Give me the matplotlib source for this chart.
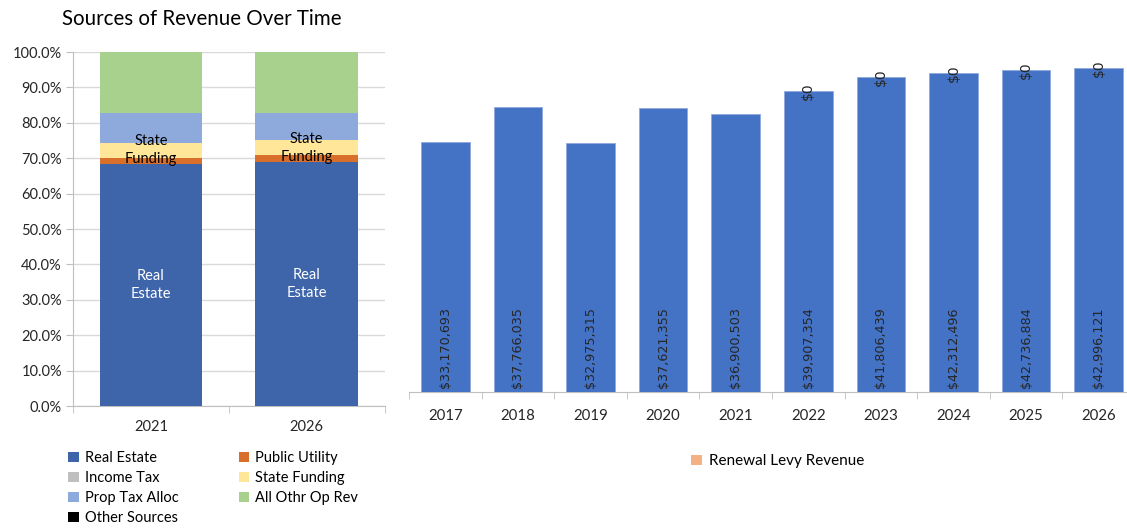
import numpy as np
import matplotlib
matplotlib.use("Agg")
import matplotlib.pyplot as plt
from matplotlib.patches import Patch

plt.rcParams['font.family'] = ['Lato', 'DejaVu Sans']

# left chart : share of revenue (percent)
share_years = ["2021", "2026"]
share_names = ["Real Estate", "Public Utility", "Income Tax", "State Funding",
               "Prop Tax Alloc", "All Othr Op Rev", "Other Sources"]
share_vals = {
    "Real Estate":     [68.5, 69.0],
    "Public Utility":  [1.6, 1.9],
    "Income Tax":      [0.0, 0.0],
    "State Funding":   [4.3, 4.2],
    "Prop Tax Alloc":  [8.4, 7.6],
    "All Othr Op Rev": [17.2, 17.3],
    "Other Sources":   [0.0, 0.0],
}
share_colors = {
    "Real Estate": "#3E64AA",
    "Public Utility": "#D8702C",
    "Income Tax": "#BFBFBF",
    "State Funding": "#FFE699",
    "Prop Tax Alloc": "#8EA9DB",
    "All Othr Op Rev": "#A9D18E",
    "Other Sources": "#000000",
}

# right chart : revenue per year
rev_years = ["2017", "2018", "2019", "2020", "2021", "2022", "2023", "2024", "2025", "2026"]
rev_base = [33170693, 37766035, 32975315, 37621355, 36900503,
            39907354, 41806439, 42312496, 42736884, 42996121]
renewal_levy = [None, None, None, None, None, 0, 0, 0, 0, 0]

fig = plt.figure(figsize=(11.27, 5.29), dpi=100)
grid_col = "#D9D9D9"
axis_col = "#BFBFBF"

# ---------------- left chart
ax = fig.add_axes([0.0648, 0.2325, 0.2764, 0.6692])
x = np.arange(len(share_years))
bottom = np.zeros(len(share_years))
for name in share_names:
    v = np.array(share_vals[name])
    ax.bar(x, v, 0.66, bottom=bottom, color=share_colors[name], label=name, zorder=3)
    if name == "Real Estate":
        for xi, b, h in zip(x, bottom, v):
            ax.text(xi, b + h / 2, "Real\nEstate", color="white", ha="center", va="center",
                    fontsize=10.5, linespacing=1.4, zorder=4)
    if name == "State Funding":
        for xi, b, h in zip(x, bottom, v):
            ax.text(xi, b + h / 2, "State\nFunding", color="black", ha="center", va="center",
                    fontsize=10.5, linespacing=1.35, zorder=4)
    bottom += v

ax.set_xlim(-0.5, 1.5)
ax.set_ylim(0, 100)
ax.set_yticks(np.arange(0, 101, 10))
ax.set_yticklabels(["%.1f%%" % t for t in np.arange(0, 101, 10)], fontsize=10.5, color="#262626")
ax.set_xticks(x)
ax.set_xticklabels(share_years, fontsize=10.5, color="#262626")
ax.set_xticks([-0.5, 0.5, 1.5], minor=True)
ax.tick_params(axis="x", which="major", length=0, pad=10)
ax.tick_params(axis="x", which="minor", length=5, color=axis_col)
ax.tick_params(axis="y", length=5, color=axis_col, pad=3)
ax.grid(axis="y", color=grid_col, lw=1, zorder=0)
for s in ["top", "right"]:
    ax.spines[s].set_visible(False)
ax.spines["left"].set_color(axis_col)
ax.spines["bottom"].set_color(axis_col)

fig.text(0.055, 0.965, "Sources of Revenue Over Time", fontsize=14.8, color="#000000", va="center")

# legend, row order like the original (2 columns)
hd = {n: Patch(facecolor=share_colors[n]) for n in share_names}
order = ["Real Estate", "Income Tax", "Prop Tax Alloc", "Other Sources",
         "Public Utility", "State Funding", "All Othr Op Rev"]
fig.legend([hd[n] for n in order], order, ncol=2, loc="upper left",
           bbox_to_anchor=(0.0555, 0.159), frameon=False, fontsize=10.5,
           handlelength=0.7, handleheight=0.7, handletextpad=0.45,
           columnspacing=4.1, labelspacing=0.42, borderaxespad=0)

# ---------------- right chart
ax2 = fig.add_axes([0.3629, 0.259, 0.6442, 0.7127])
xr = np.arange(len(rev_years))
ax2.bar(xr, rev_base, 0.67, color="#4472C4", edgecolor="#8FAADC", linewidth=0.6, zorder=3)
lev = np.array([0 if v is None else v for v in renewal_levy], dtype=float)
ax2.bar(xr, lev, 0.67, bottom=rev_base, color="#F4B183", zorder=3)
for xi, v in zip(xr, rev_base):
    ax2.text(xi, 0.011 * 50e6, "${:,}".format(v), rotation=90, ha="center", va="bottom",
             fontsize=9.2, color="#262626", family="DejaVu Sans", zorder=4)
for xi, v, b in zip(xr, renewal_levy, rev_base):
    if v is not None:
        ax2.text(xi, b + v, "${:,}".format(v), rotation=90, ha="center", va="center",
                 fontsize=10, color="#262626", family="DejaVu Sans", zorder=4)
ax2.set_xlim(-0.5, len(rev_years) - 0.5)
ax2.set_ylim(0, 50e6)
ax2.set_yticks([])
ax2.set_xticks(xr)
ax2.set_xticklabels(rev_years, fontsize=10.8, color="#262626")
ax2.set_xticks(np.arange(-0.5, len(rev_years), 1), minor=True)
ax2.tick_params(axis="x", which="major", length=0, pad=12)
ax2.tick_params(axis="x", which="minor", length=5, color=axis_col)
for s in ["top", "right", "left"]:
    ax2.spines[s].set_visible(False)
ax2.spines["bottom"].set_color(axis_col)

fig.legend([Patch(facecolor="#F4B183")], ["Renewal Levy Revenue"], loc="center",
           bbox_to_anchor=(0.69, 0.128), frameon=False, fontsize=11,
           handlelength=0.7, handleheight=0.7, handletextpad=0.45)

fig.savefig("out.png", dpi=100)
